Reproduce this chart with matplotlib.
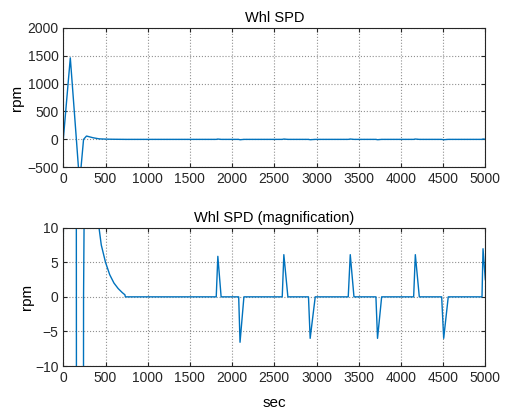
import matplotlib
matplotlib.use("Agg")
import matplotlib.pyplot as plt

plt.rcParams['font.family'] = ['Liberation Sans', 'DejaVu Sans']

# Data (time in sec, wheel speed in rpm)
time = [0, 83, 155, 193, 240, 275, 300, 350, 400, 423, 450, 500, 550, 600, 650,
        700, 730, 735,
        1812, 1831, 1870, 2078, 2094, 2140,
        2594, 2613, 2661, 2905, 2925, 2985,
        3376, 3400, 3444, 3704, 3723, 3772,
        4151, 4171, 4218, 4483, 4507, 4561,
        4961, 4973, 5000]
speed = [0, 1460, 0, -785, 0, 60, 50, 30, 16, 10, 7.5, 5, 3.2, 2.0, 1.2,
         0.6, 0.3, 0,
         0, 5.86, 0, 0, -6.57, 0,
         0, 6.1, 0, 0, -6.0, 0,
         0, 6.1, 0, 0, -6.0, 0,
         0, 6.1, 0, 0, -6.0, 0,
         0, 6.96, 2.5]

top_yticks = [-500, 0, 500, 1000, 1500, 2000]
bot_yticks = [-10, -5, 0, 5, 10]
xticks = [0, 500, 1000, 1500, 2000, 2500, 3000, 3500, 4000, 4500, 5000]

W, H = 507, 411
fig = plt.figure(figsize=(W / 100, H / 100), dpi=100)

line_color = '#0072BD'
fs = 10


def style(ax):
    ax.set_xlim(0, 5000)
    ax.set_xticks(xticks)
    ax.grid(True, linestyle=':', color='#909090', linewidth=0.8)
    ax.tick_params(direction='in', top=True, right=True, labelsize=fs,
                   length=3, width=0.8, color='#262626', labelcolor='#262626')
    for s in ax.spines.values():
        s.set_color('#262626')
        s.set_linewidth(0.8)
    ax.set_axisbelow(True)


ax1 = fig.add_axes([63.3 / W, 1 - 167.3 / H, (485.3 - 63.3) / W, (167.3 - 27.7) / H])
ax1.plot(time, speed, color=line_color, linewidth=1.0)
style(ax1)
ax1.set_ylim(-500, 2000)
ax1.set_yticks(top_yticks)
ax1.set_ylabel('rpm', fontsize=11, labelpad=2)
ax1.set_title('Whl SPD', fontsize=10.5, pad=4)

ax2 = fig.add_axes([63.3 / W, 1 - 366.0 / H, (485.3 - 63.3) / W, (366.0 - 227.7) / H])
ax2.plot(time, speed, color=line_color, linewidth=1.0)
style(ax2)
ax2.set_ylim(-10, 10)
ax2.set_yticks(bot_yticks)
ax2.set_ylabel('rpm', fontsize=11, labelpad=1)
ax2.set_xlabel('sec', fontsize=11, labelpad=8)
ax2.set_title('Whl SPD (magnification)', fontsize=10.5, pad=4)

fig.savefig('out.png', dpi=100)
